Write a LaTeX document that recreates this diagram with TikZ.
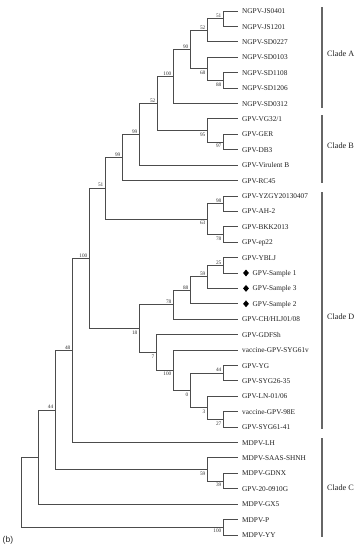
\documentclass[tikz,border=0pt]{standalone}
\usepackage{fontspec}
\setmainfont{Liberation Serif}
\newfontfamily\labsans{Liberation Sans}
\usetikzlibrary{shapes.geometric}
\definecolor{treegray}{gray}{0.30}
\definecolor{bargray}{gray}{0.40}
\newcommand\mkleaf[3]{\coordinate (#1) at (238,#2); \node[leaftext] (#1t) at (242,#2) {#3};}
\begin{document}
\begin{tikzpicture}[x=1pt,y=-1pt,
  br/.style={draw=treegray, line width=0.8pt},
  leaftext/.style={anchor=base west, inner sep=0pt, yshift=-2.6pt, text=black!88, font=\fontsize{7.3}{8}\selectfont},
  bs/.style={inner sep=0pt, text=black!80, font=\fontsize{5.3}{6}\selectfont},
  bsa/.style={bs, anchor=south east, xshift=-1.5pt, yshift=1pt},
  bsb/.style={bs, anchor=north east, xshift=-1.5pt, yshift=-2pt},
  cladebar/.style={draw=bargray, line width=1.6pt},
  cladetext/.style={anchor=base west, inner sep=0pt, yshift=-2.9pt, text=black!88, font=\fontsize{8.2}{9}\selectfont},
  diam/.style={diamond, fill=black, inner sep=0pt, minimum width=6pt, minimum height=7pt}]
\useasboundingbox (0,0) rectangle (359,550);
% leaves
\mkleaf{l1}{11.00}{NGPV-JS0401}
\mkleaf{l2}{26.41}{NGPV-JS1201}
\mkleaf{l3}{41.82}{NGPV-SD0227}
\mkleaf{l4}{57.23}{NGPV-SD0103}
\mkleaf{l5}{72.64}{NGPV-SD1108}
\mkleaf{l6}{88.05}{NGPV-SD1206}
\mkleaf{l7}{103.46}{NGPV-SD0312}
\mkleaf{l8}{118.87}{GPV-VG32/1}
\mkleaf{l9}{134.28}{GPV-GER}
\mkleaf{l10}{149.69}{GPV-DB3}
\mkleaf{l11}{165.10}{GPV-Virulent B}
\mkleaf{l12}{180.51}{GPV-RC45}
\mkleaf{l13}{195.92}{GPV-YZGY20130407}
\mkleaf{l14}{211.33}{GPV-AH-2}
\mkleaf{l15}{226.74}{GPV-BKK2013}
\mkleaf{l16}{242.15}{GPV-ep22}
\mkleaf{l17}{257.56}{GPV-YBLJ}
\coordinate (l18) at (238,272.97);
\node[diam] (d18) at (246,272.97) {};
\node[leaftext] (l18t) at (252.5,272.97) {GPV-Sample 1};
\coordinate (l19) at (238,288.38);
\node[diam] (d19) at (246,288.38) {};
\node[leaftext] (l19t) at (252.5,288.38) {GPV-Sample 3};
\coordinate (l20) at (238,303.79);
\node[diam] (d20) at (246,303.79) {};
\node[leaftext] (l20t) at (252.5,303.79) {GPV-Sample 2};
\mkleaf{l21}{319.20}{GPV-CH/HLJ01/08}
\mkleaf{l22}{334.61}{GPV-GDFSh}
\mkleaf{l23}{350.02}{vaccine-GPV-SYG61v}
\mkleaf{l24}{365.43}{GPV-YG}
\mkleaf{l25}{380.84}{GPV-SYG26-35}
\mkleaf{l26}{396.25}{GPV-LN-01/06}
\mkleaf{l27}{411.66}{vaccine-GPV-98E}
\mkleaf{l28}{427.07}{GPV-SYG61-41}
\mkleaf{l29}{442.48}{MDPV-LH}
\mkleaf{l30}{457.89}{MDPV-SAAS-SHNH}
\mkleaf{l31}{473.30}{MDPV-GDNX}
\mkleaf{l32}{488.71}{GPV-20-0910G}
\mkleaf{l33}{504.12}{MDPV-GX5}
\mkleaf{l34}{519.53}{MDPV-P}
\mkleaf{l35}{534.94}{MDPV-YY}
% internal nodes
\coordinate (n51a) at (223,18.70);
\coordinate (n52a) at (207,30.26);
\coordinate (n88a) at (223,80.35);
\coordinate (n68) at (207,68.79);
\coordinate (n90) at (190,49.50);
\coordinate (n100a) at (173,76.50);
\coordinate (n97) at (223,141.99);
\coordinate (n95) at (207,130.43);
\coordinate (n52b) at (157,103.50);
\coordinate (n99a) at (139,134.30);
\coordinate (n99b) at (122,157.40);
\coordinate (n98) at (223,203.63);
\coordinate (n78a) at (223,234.45);
\coordinate (n63) at (207,219.04);
\coordinate (n51b) at (105,188.22);
\coordinate (n25) at (223,265.27);
\coordinate (n59a) at (207,276.82);
\coordinate (n88b) at (190,290.31);
\coordinate (n78b) at (173,304.75);
\coordinate (n44a) at (223,373.14);
\coordinate (n27) at (223,419.37);
\coordinate (n3) at (207,407.81);
\coordinate (n0) at (190,390.47);
\coordinate (n100c) at (173,370.25);
\coordinate (n7) at (156,352.43);
\coordinate (n18) at (139,328.59);
\coordinate (n100b) at (89,258.40);
\coordinate (n48) at (72,350.44);
\coordinate (n39) at (223,481.00);
\coordinate (n59b) at (207,469.45);
\coordinate (n44b) at (55,409.94);
\coordinate (nX) at (38,457.03);
\coordinate (n100d) at (223,527.24);
\coordinate (root) at (21,492.13);
% branches
\draw[br] (n51a) |- (l1) (n51a) |- (l2);
\draw[br] (n52a) |- (n51a) (n52a) |- (l3);
\draw[br] (n88a) |- (l5) (n88a) |- (l6);
\draw[br] (n68) |- (l4) (n68) |- (n88a);
\draw[br] (n90) |- (n52a) (n90) |- (n68);
\draw[br] (n100a) |- (n90) (n100a) |- (l7);
\draw[br] (n97) |- (l9) (n97) |- (l10);
\draw[br] (n95) |- (l8) (n95) |- (n97);
\draw[br] (n52b) |- (n100a) (n52b) |- (n95);
\draw[br] (n99a) |- (n52b) (n99a) |- (l11);
\draw[br] (n99b) |- (n99a) (n99b) |- (l12);
\draw[br] (n98) |- (l13) (n98) |- (l14);
\draw[br] (n78a) |- (l15) (n78a) |- (l16);
\draw[br] (n63) |- (n98) (n63) |- (n78a);
\draw[br] (n51b) |- (n99b) (n51b) |- (n63);
\draw[br] (n25) |- (l17) (n25) |- (l18);
\draw[br] (n59a) |- (n25) (n59a) |- (l19);
\draw[br] (n88b) |- (n59a) (n88b) |- (l20);
\draw[br] (n78b) |- (n88b) (n78b) |- (l21);
\draw[br] (n44a) |- (l24) (n44a) |- (l25);
\draw[br] (n27) |- (l27) (n27) |- (l28);
\draw[br] (n3) |- (l26) (n3) |- (n27);
\draw[br] (n0) |- (n44a) (n0) |- (n3);
\draw[br] (n100c) |- (l23) (n100c) |- (n0);
\draw[br] (n7) |- (l22) (n7) |- (n100c);
\draw[br] (n18) |- (n78b) (n18) |- (n7);
\draw[br] (n100b) |- (n51b) (n100b) |- (n18);
\draw[br] (n48) |- (n100b) (n48) |- (l29);
\draw[br] (n39) |- (l31) (n39) |- (l32);
\draw[br] (n59b) |- (l30) (n59b) |- (n39);
\draw[br] (n44b) |- (n48) (n44b) |- (n59b);
\draw[br] (nX) |- (n44b) (nX) |- (l33);
\draw[br] (n100d) |- (l34) (n100d) |- (l35);
\draw[br] (root) |- (nX) (root) |- (n100d);
% bootstrap values
\node[bsa] (b51a) at (n51a) {51};
\node[bsa] (b52a) at (n52a) {52};
\node[bsb] (b88a) at (n88a) {88};
\node[bsb] (b68) at (n68) {68};
\node[bsa] (b90) at (n90) {90};
\node[bsa] (b100a) at (n100a) {100};
\node[bsb] (b97) at (n97) {97};
\node[bsb] (b95) at (n95) {95};
\node[bsa] (b52b) at (n52b) {52};
\node[bsa] (b99a) at (n99a) {99};
\node[bsa] (b99b) at (n99b) {99};
\node[bsa] (b98) at (n98) {98};
\node[bsb] (b78a) at (n78a) {78};
\node[bsb] (b63) at (n63) {63};
\node[bsa] (b51b) at (n51b) {51};
\node[bsa] (b25) at (n25) {25};
\node[bsa] (b59a) at (n59a) {59};
\node[bsa] (b88b) at (n88b) {88};
\node[bsa] (b78b) at (n78b) {78};
\node[bsa] (b44a) at (n44a) {44};
\node[bsb] (b27) at (n27) {27};
\node[bsb] (b3) at (n3) {3};
\node[bsb] (b0) at (n0) {0};
\node[bsb] (b100c) at (n100c) {100};
\node[bsb] (b7) at (n7) {7};
\node[bsb] (b18) at (n18) {18};
\node[bsa] (b100b) at (n100b) {100};
\node[bsa] (b48) at (n48) {48};
\node[bsb] (b39) at (n39) {39};
\node[bsb] (b59b) at (n59b) {59};
\node[bsa] (b44b) at (n44b) {44};
\node[bsb] (b100d) at (n100d) {100};
% clade bars
\coordinate (cAt) at (322,7); \coordinate (cAb) at (322,108);
\coordinate (cBt) at (322,115); \coordinate (cBb) at (322,183);
\coordinate (cDt) at (322,192); \coordinate (cDb) at (322,429);
\coordinate (cCt) at (322,438); \coordinate (cCb) at (322,537);
\draw[cladebar] (cAt) -- (cAb);
\draw[cladebar] (cBt) -- (cBb);
\draw[cladebar] (cDt) -- (cDb);
\draw[cladebar] (cCt) -- (cCb);
\node[cladetext] (cA) at (327,54) {Clade A};
\node[cladetext] (cB) at (327,146) {Clade B};
\node[cladetext] (cD) at (327,317) {Clade D};
\node[cladetext] (cC) at (327,488) {Clade C};
\node[anchor=west, inner sep=0pt, font=\labsans\fontsize{8.5}{10}\selectfont, text=black!85] (plabel) at (2.5,540) {(b)};
\end{tikzpicture}
\end{document}
